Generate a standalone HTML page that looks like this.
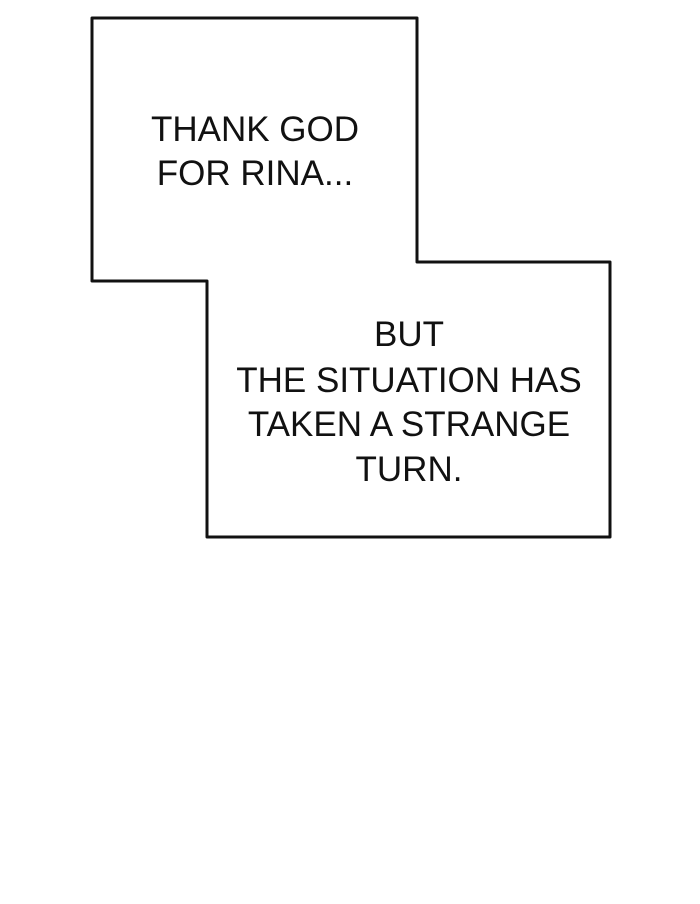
<!DOCTYPE html>
<html><head><style>
html,body{margin:0;padding:0;background:#fff;}
svg{display:block;}
text{font-family:"Liberation Sans",sans-serif;font-size:35px;fill:#111;text-anchor:middle;}
</style></head><body>
<svg width="700" height="904" viewBox="0 0 700 904">
<path d="M92 18 H417 V262 H610 V537 H207 V281 H92 Z" fill="#fff" stroke="#111" stroke-width="3" stroke-linejoin="round"/>
<text x="255" y="141">THANK GOD</text>
<text x="255" y="185">FOR RINA...</text>
<text x="409" y="346">BUT</text>
<text x="409" y="392">THE SITUATION HAS</text>
<text x="409" y="436">TAKEN A STRANGE</text>
<text x="409" y="481">TURN.</text>
</svg>
</body></html>
